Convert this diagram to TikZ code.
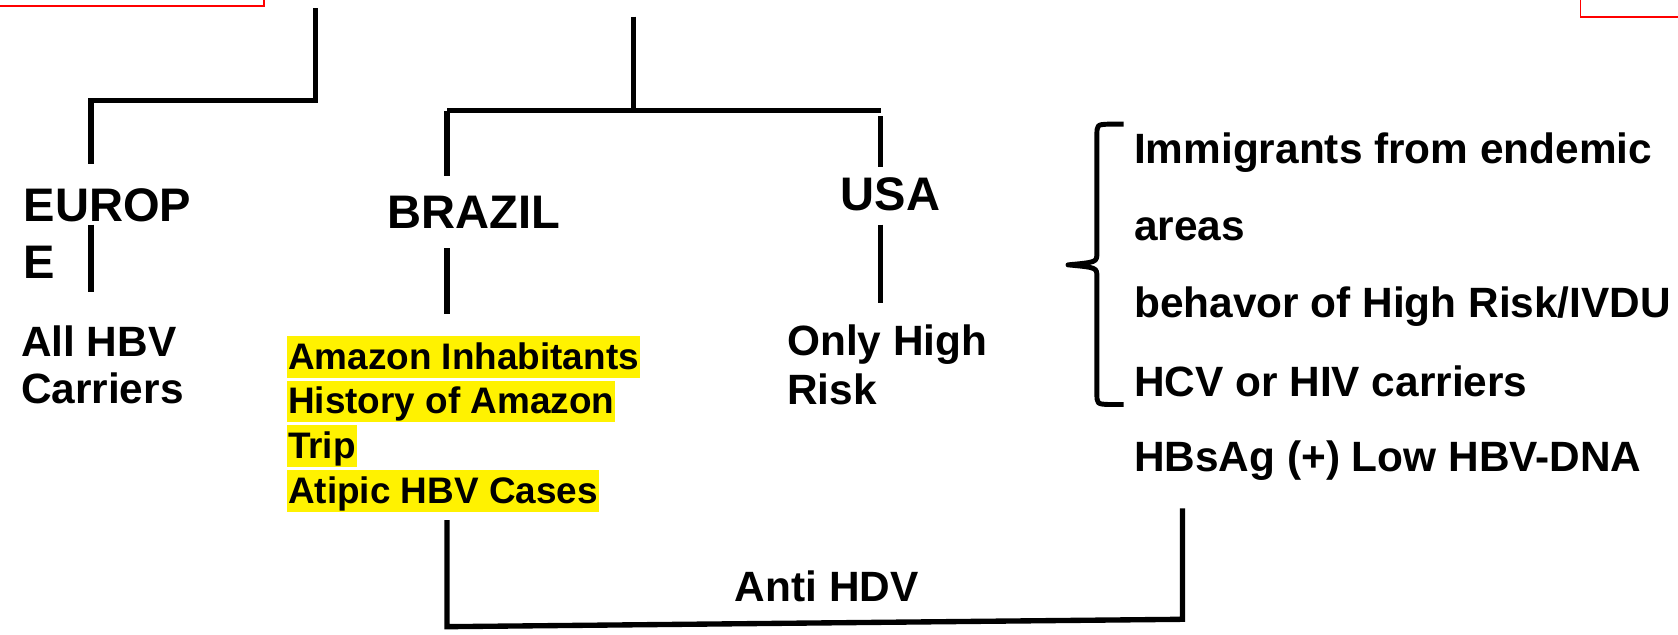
\documentclass[tikz,border=0pt]{standalone}
\usepackage{fontspec}
\setmainfont{Liberation Sans}
\begin{document}
\begin{tikzpicture}[x=1pt,y=-1pt,
  link/.style={line width=5pt},
  head/.style={font=\bfseries\fontsize{44}{50}\selectfont, inner sep=0pt, anchor=base west},
  body/.style={font=\bfseries\fontsize{39.6}{46}\selectfont, inner sep=0pt, anchor=base west},
  hl/.style={font=\bfseries\fontsize{34.5}{40}\selectfont, fill=yellow, inner xsep=1pt,
             inner ysep=1pt, text height=30pt, text depth=7pt, anchor=base west},
  frame/.style={draw=red, line width=1.6pt}]
\useasboundingbox (0,0) rectangle (1568,593);
\clip (0,0) rectangle (1568,593);

% boxes of the level above, cut by the page edge
\draw[frame] (-20,-20) rectangle (246.5,5.5);
\draw[frame] (1477,-20) rectangle (1600,16);

% ---- Europe branch
\node[head] (europ) at (22,207) {EUROP};
\node[head] (europe2) at (22,260) {E};
\node[body] (allhbv) at (19.5,333.3) {All HBV};
\node[body] (carriers) at (19.5,377.5) {Carriers};

\coordinate (eTop) at (295,7.8);
\coordinate (eJoin) at (295,94);
\coordinate (eLeft) at (85,94);
\coordinate (eIn) at (85,153);
\coordinate (eOutA) at (85,210);
\coordinate (eOutB) at (85,272.5);
\draw[link] (eTop) -- (eJoin) -- (eLeft) -- (eIn);
\draw[link] (eOutA) -- (eOutB);

% ---- Brazil / USA branch
\node[head] (brazil) at (361.7,213.3) {BRAZIL};
\node[head] (usa) at (785.5,196.9) {USA};

\coordinate (bTop) at (592,15.6);
\coordinate (bJoin) at (592,103.5);
\coordinate (bLeft) at (417.7,103.5);
\coordinate (bRight) at (823,103.5);
\coordinate (bIn) at (417.7,164.5);
\coordinate (uIn) at (823,156.4);
\coordinate (uTopIn) at (823,108.4);
\draw[link] (bTop) -- (bJoin);
\draw[link] (bLeft |- bJoin) -- (bRight);
\draw[link] (bLeft) -- (bIn);
\draw[link] (uTopIn) -- (uIn);

\coordinate (bOutA) at (417.7,232);
\coordinate (bOutB) at (417.7,293.4);
\coordinate (uOutA) at (823,210);
\coordinate (uOutB) at (823,283.4);
\draw[link] (bOutA) -- (bOutB);
\draw[link] (uOutA) -- (uOutB);

% highlighted Brazil criteria
\node[hl] (amz1) at (268,345.1) {Amazon Inhabitants};
\node[hl] (amz2) at (268,386.7) {History of Amazon~};
\node[hl] (amz3) at (268,428.4) {Trip};
\node[hl] (amz4) at (268,470.1) {Atipic HBV Cases};

% USA criteria
\node[body] (only) at (735.5,332) {Only High};
\node[body] (risk) at (735.5,378.4) {Risk};

\node[body] (imm) at (1059.6,153.2) {Immigrants from endemic};
\node[body] (areas) at (1059.6,225) {areas};
\node[body] (behav) at (1059.6,296.5) {behavor of High Risk/IVDU};
\node[body] (hcv) at (1059.6,370.6) {HCV or HIV carriers};
\node[body] (hbsag) at (1059.6,440.7) {HBsAg (+) Low HBV-DNA};

% curly brace grouping the first four USA criteria
\draw[line width=4.6pt, line join=round]
  (1050,116) -- (1036,116) .. controls (1025,116.5) .. (1025,127)
  -- (1025,236) .. controls (1025,245) .. (998,247.5)
  .. controls (1025,250) .. (1025,259)
  -- (1025,367) .. controls (1025,377.5) .. (1036,378) -- (1050,378);

% ---- joint Anti HDV testing
\coordinate (hBl) at (417.7,486);
\coordinate (hBlLow) at (417.7,585.6);
\coordinate (hBr) at (1105,475);
\coordinate (hBrLow) at (1105,578.7);
\draw[link] (hBl) -- (hBlLow) -- (hBrLow) -- (hBr);
\node[body] (anti) at (686.5,562.2) {Anti HDV};
\end{tikzpicture}
\end{document}
